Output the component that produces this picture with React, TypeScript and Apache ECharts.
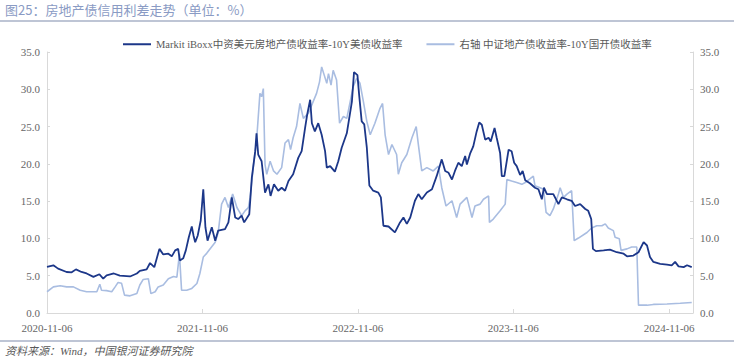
import React, { useEffect, useRef } from "react";
import * as echarts from "echarts";

// ---------- data ----------
const START_DATE = "2020-11-06";
const END_DATE = "2025-01-01";
const xTickLabels = ["2020-11-06", "2021-11-06", "2022-11-06", "2023-11-06", "2024-11-06"];
const yMin = 0;
const yMax = 35;
const yStep = 5;

const seriesNames = [
  "Markit iBoxx中资美元房地产债收益率-10Y美债收益率",
  "右轴 中证地产债收益率-10Y国开债收益率",
];

const darkDates = [
  "2020-11-06","2020-11-21","2020-12-02","2020-12-22","2021-01-03","2021-01-13","2021-01-26","2021-02-07",
  "2021-02-23","2021-03-09","2021-03-18","2021-03-26","2021-04-12","2021-04-26","2021-05-20","2021-06-05",
  "2021-06-12","2021-06-28","2021-07-06","2021-07-16","2021-07-28","2021-08-06","2021-08-18","2021-08-26",
  "2021-09-03","2021-09-10","2021-09-14","2021-09-22","2021-09-28","2021-10-05","2021-10-12","2021-10-16",
  "2021-10-20","2021-10-26","2021-11-02","2021-11-08","2021-11-13","2021-11-18","2021-11-28","2021-12-06",
  "2021-12-13","2021-12-29","2022-01-06","2022-01-14","2022-01-22","2022-01-29","2022-02-06","2022-02-12",
  "2022-02-24","2022-03-02","2022-03-10","2022-03-13","2022-03-17","2022-03-25","2022-04-02","2022-04-10",
  "2022-04-15","2022-04-23","2022-05-03","2022-05-11","2022-05-19","2022-05-27","2022-06-07","2022-06-19",
  "2022-06-27","2022-07-05","2022-07-10","2022-07-17","2022-07-21","2022-07-28","2022-08-05","2022-08-13",
  "2022-08-21","2022-08-25","2022-09-02","2022-09-13","2022-09-21","2022-09-29","2022-10-11","2022-10-23",
  "2022-10-28","2022-11-05","2022-11-09","2022-11-15","2022-11-21","2022-11-27","2022-12-03","2022-12-12",
  "2022-12-24","2022-12-30","2023-01-05","2023-01-17","2023-02-01","2023-02-13","2023-02-21","2023-03-01",
  "2023-03-09","2023-03-20","2023-03-28","2023-04-05","2023-04-17","2023-04-29","2023-05-10","2023-05-22",
  "2023-05-30","2023-06-07","2023-06-15","2023-06-22","2023-06-30","2023-07-08","2023-07-16","2023-07-20",
  "2023-07-28","2023-08-04","2023-08-12","2023-08-18","2023-08-24","2023-09-01","2023-09-09","2023-09-14",
  "2023-09-23","2023-09-28","2023-10-06","2023-10-10","2023-10-16","2023-10-26","2023-11-02","2023-11-08",
  "2023-11-14","2023-11-22","2023-11-28","2023-12-04","2023-12-15","2023-12-27","2024-01-04","2024-01-12",
  "2024-01-17","2024-01-24","2024-02-08","2024-02-20","2024-02-28","2024-03-11","2024-03-22","2024-03-30",
  "2024-04-11","2024-04-23","2024-04-30","2024-05-07","2024-05-11","2024-05-18","2024-06-05","2024-06-20",
  "2024-07-06","2024-07-22","2024-07-30","2024-08-14","2024-08-26","2024-09-07","2024-09-15","2024-09-22",
  "2024-09-30","2024-10-16","2024-11-01","2024-11-12","2024-11-20","2024-11-28","2024-12-10","2024-12-18",
  "2024-12-29",
];
const darkValues = [
  6.2,6.4,5.95,5.5,5.45,5.85,5.5,5.3,
  4.85,5.2,4.6,5.05,5.3,5.0,4.9,5.3,
  5.65,5.85,6.7,6.15,8.6,7.85,7.95,7.6,
  8.4,8.6,7.05,7.35,8.4,10.15,11.6,10.4,
  9.5,10.4,12.4,16.6,11.5,9.7,11.5,9.7,
  11.05,11.25,12.15,15.5,12.8,12.6,13.05,12.15,
  13.25,18.15,21.7,24.1,21.25,20.35,16.15,17.25,
  15.7,17.25,16.4,16.8,16.4,17.7,18.6,20.8,
  21.7,24.8,26.6,28.6,25.45,24.35,25.45,23.9,
  21.7,19.5,19.7,18.95,20.35,22.15,24.1,28.35,
  32.3,31.9,29.25,25.7,25.3,22.2,17.1,16.4,
  16.15,15.5,11.7,11.6,10.8,12.15,12.8,11.95,
  12.8,15.05,15.95,15.25,16.15,16.6,18.35,20.6,
  19.05,18.8,17.9,19.05,20.15,19.7,21.05,19.9,
  21.45,22.35,24.35,25.55,25.25,23.25,23.5,23.0,
  24.8,23.5,21.45,18.35,18.35,21.9,21.7,20.15,
  19.7,18.5,19.05,17.8,17.4,16.8,16.6,15.25,
  16.8,15.95,15.95,14.6,15.5,15.25,15.05,14.35,
  14.6,13.95,13.7,12.6,8.6,8.3,8.4,8.5,
  8.15,7.95,7.6,7.7,8.15,9.5,9.05,7.5,
  6.85,6.6,6.5,6.4,6.85,6.25,6.15,6.4,
  6.15,
];

const lightDates = [
  "2020-11-06","2020-11-21","2020-12-07","2020-12-22","2021-01-07","2021-01-23","2021-02-07","2021-03-03",
  "2021-03-10","2021-03-14","2021-03-26","2021-04-07","2021-04-15","2021-04-22","2021-04-30","2021-05-07",
  "2021-05-20","2021-06-05","2021-06-12","2021-06-20","2021-07-02","2021-07-08","2021-07-18","2021-07-25",
  "2021-08-06","2021-08-18","2021-08-30","2021-09-07","2021-09-13","2021-09-18","2021-09-30","2021-10-12",
  "2021-10-24","2021-10-31","2021-11-08","2021-11-16","2021-12-06","2021-12-13","2021-12-21","2021-12-29",
  "2022-01-06","2022-01-16","2022-01-26","2022-02-06","2022-02-14","2022-02-22","2022-02-26","2022-03-06",
  "2022-03-13","2022-03-21","2022-03-25","2022-03-29","2022-04-02","2022-04-06","2022-04-14","2022-04-22",
  "2022-04-30","2022-05-11","2022-05-19","2022-05-27","2022-06-01","2022-06-07","2022-06-15","2022-06-23",
  "2022-07-01","2022-07-13","2022-07-24","2022-08-01","2022-08-08","2022-08-13","2022-08-19","2022-08-25",
  "2022-08-29","2022-09-04","2022-09-09","2022-09-17","2022-09-24","2022-10-03","2022-10-11","2022-10-19",
  "2022-10-26","2022-11-03","2022-11-11","2022-11-19","2022-11-27","2022-12-05","2022-12-16","2022-12-28",
  "2023-01-03","2023-01-09","2023-01-17","2023-01-25","2023-02-05","2023-02-09","2023-02-17","2023-03-01",
  "2023-03-13","2023-03-23","2023-03-28","2023-04-05","2023-04-17","2023-05-02","2023-05-14","2023-05-22",
  "2023-06-01","2023-06-15","2023-06-26","2023-07-04","2023-07-20","2023-08-01","2023-08-08","2023-08-20",
  "2023-08-28","2023-09-09","2023-09-11","2023-09-20","2023-10-06","2023-10-18","2023-10-22","2023-11-02",
  "2023-11-14","2023-11-26","2023-12-04","2023-12-15","2023-12-23","2023-12-27","2024-01-08","2024-01-16",
  "2024-01-22","2024-01-31","2024-02-08","2024-02-20","2024-02-24","2024-03-03","2024-03-11","2024-03-22",
  "2024-03-28","2024-04-07","2024-04-27","2024-05-08","2024-05-20","2024-06-01","2024-06-09","2024-06-16",
  "2024-06-28","2024-07-02","2024-07-12","2024-07-16","2024-07-30","2024-08-10","2024-08-22","2024-08-26",
  "2024-09-15","2024-09-30","2024-11-01","2024-12-02","2024-12-29",
];
const lightValues = [
  2.85,3.5,3.65,3.5,3.5,3.05,2.85,2.85,
  3.85,3.05,3.0,2.85,3.5,4.1,4.0,2.4,
  2.3,2.6,3.75,4.5,4.6,2.6,2.85,3.5,
  3.75,4.6,4.9,4.8,7.95,3.05,3.05,3.3,
  3.95,5.3,7.5,8.0,9.5,10.8,14.6,15.5,
  14.15,15.95,14.15,13.05,13.7,14.15,15.5,19.9,
  23.0,29.45,29.0,30.1,19.9,18.6,20.35,19.05,
  18.6,19.5,22.8,23.25,21.9,23.5,25.0,28.1,
  26.1,26.8,28.35,29.45,31.0,33.0,31.9,30.8,
  32.1,30.55,32.55,31.25,25.45,26.35,26.1,28.35,
  30.35,31.45,30.8,28.35,25.7,23.9,25.45,27.45,
  28.1,23.9,21.25,22.6,21.25,18.6,20.15,21.25,
  23.5,25.0,22.6,19.05,19.5,19.05,19.7,16.8,
  14.35,15.05,12.8,14.6,15.5,12.8,14.35,14.6,
  15.25,15.7,12.15,12.6,13.7,14.6,17.9,17.7,
  17.5,17.25,17.5,18.0,18.35,17.05,16.8,16.6,
  13.5,13.05,13.95,15.95,16.8,15.5,15.95,16.4,
  9.7,10.05,10.8,11.4,11.7,11.7,11.95,11.4,
  11.05,10.15,9.95,8.4,8.6,8.85,8.85,1.05,
  1.05,1.15,1.2,1.3,1.4,
];

// ---------- helpers ----------
function buildDays(start: string, end: string): string[] {
  const out: string[] = [];
  const [sy, sm, sd] = start.split("-").map(Number);
  const [ey, em, ed] = end.split("-").map(Number);
  let t = Date.UTC(sy, sm - 1, sd);
  const tEnd = Date.UTC(ey, em - 1, ed);
  while (t <= tEnd) {
    const d = new Date(t);
    const s =
      d.getUTCFullYear() +
      "-" + String(d.getUTCMonth() + 1).padStart(2, "0") +
      "-" + String(d.getUTCDate()).padStart(2, "0");
    out.push(s);
    t += 86400000;
  }
  return out;
}

const categories = buildDays(START_DATE, END_DATE);
const catIndex = new Map<string, number>();
categories.forEach((c, i) => catIndex.set(c, i));
const tickSet = new Set(xTickLabels);

function pairs(dates: string[], values: number[]) {
  return dates.map((d, i) => [catIndex.get(d) as number, values[i]]);
}

const DARK = "#1c3789";
const LIGHT = "#a9bde1";
const AXIS = "#d9d9d9";
const LABEL = "#666666";
const SERIF = "'Liberation Serif', 'Noto Sans CJK SC', serif";

function makeYAxis(position: "left" | "right") {
  return {
    type: "value",
    position,
    min: yMin,
    max: yMax,
    interval: yStep,
    axisLine: { show: true, lineStyle: { color: AXIS, width: 1 } },
    axisTick: { show: true, inside: true, length: 3, lineStyle: { color: AXIS } },
    axisLabel: {
      color: LABEL,
      fontFamily: SERIF,
      fontSize: 11,
      margin: 7,
      formatter: (v: number) => v.toFixed(1),
    },
    splitLine: { show: false },
  };
}

export default function App() {
  const ref = useRef<HTMLDivElement>(null);

  useEffect(() => {
    if (!ref.current) return;
    const chart = echarts.init(ref.current, undefined, { renderer: "svg" });
    const option = {
      animation: false,
      backgroundColor: "#ffffff",
      grid: { left: 47, right: 41, top: 52, bottom: 47, containLabel: false },
      legend: {
        top: 34,
        left: 118,
        itemGap: 24,
        itemWidth: 28,
        itemHeight: 2,
        icon: "rect",
        data: seriesNames,
        textStyle: { color: "#595959", fontFamily: SERIF, fontSize: 10.5 },
      },
      xAxis: {
        type: "category",
        data: categories,
        boundaryGap: false,
        axisLine: { show: true, lineStyle: { color: AXIS } },
        axisTick: {
          show: true,
          inside: true,
          length: 4,
          interval: (_i: number, v: string) => tickSet.has(v),
          lineStyle: { color: AXIS },
        },
        axisLabel: {
          interval: (_i: number, v: string) => tickSet.has(v),
          color: LABEL,
          fontFamily: SERIF,
          fontSize: 11,
          margin: 9,
        },
        splitLine: { show: false },
      },
      yAxis: [makeYAxis("left"), makeYAxis("right")],
      series: [
        {
          name: seriesNames[0],
          type: "line",
          yAxisIndex: 0,
          data: pairs(darkDates, darkValues),
          symbol: "none",
          z: 3,
          lineStyle: { color: DARK, width: 1.8 },
          itemStyle: { color: DARK },
        },
        {
          name: seriesNames[1],
          type: "line",
          yAxisIndex: 1,
          data: pairs(lightDates, lightValues),
          symbol: "none",
          z: 2,
          lineStyle: { color: LIGHT, width: 1.6 },
          itemStyle: { color: LIGHT },
        },
      ],
      graphic: [
        {
          type: "text",
          left: 5,
          top: 3,
          style: {
            text: "图25：房地产债信用利差走势（单位：%）",
            fill: "#8a9bc4",
            font: "13px 'Noto Sans CJK SC', sans-serif",
          },
        },
        {
          type: "line",
          shape: { x1: 0, y1: 21, x2: 734, y2: 21 },
          style: { stroke: "#7f8cab", lineWidth: 1.2 },
        },
        {
          type: "line",
          shape: { x1: 0, y1: 341, x2: 734, y2: 341 },
          style: { stroke: "#7f8cab", lineWidth: 1.2 },
        },
        {
          type: "text",
          left: 5,
          top: 345,
          style: {
            text: "资料来源：Wind，中国银河证券研究院",
            fill: "#595959",
            font: "italic 11px 'Liberation Serif', 'Noto Sans CJK SC', serif",
          },
        },
      ],
    };
    chart.setOption(option as any);
    return () => chart.dispose();
  }, []);

  return (
    <div
      ref={ref}
      style={{ position: "fixed", left: 0, top: 0, width: 734, height: 360, background: "#fff" }}
    />
  );
}
